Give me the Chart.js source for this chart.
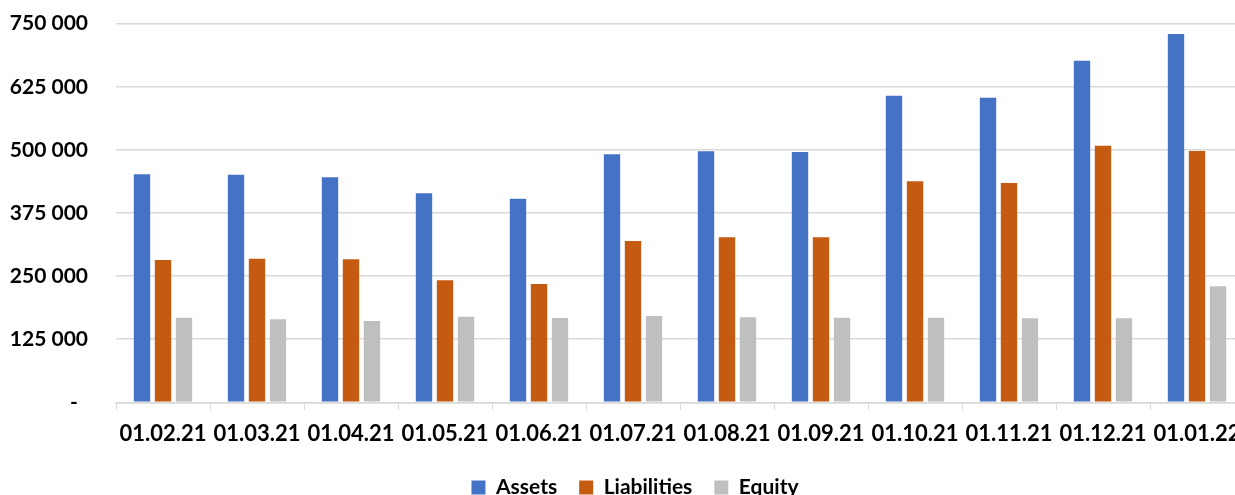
<!DOCTYPE html>
<html>
<head>
<meta charset="utf-8">
<script src="https://cdn.jsdelivr.net/npm/chart.js@4/dist/chart.umd.min.js"></script>
<style>
html,body{margin:0;padding:0;background:#fff;overflow:hidden;}
canvas{position:absolute;left:0;top:0;}
</style>
</head>
<body>
<canvas id="c" width="1270" height="508" style="width:1270px;height:508px"></canvas>
<script>
const categories = ['01.02.21','01.03.21','01.04.21','01.05.21','01.06.21','01.07.21','01.08.21','01.09.21','01.10.21','01.11.21','01.12.21','01.01.22'];
const assets      = [451700, 450900, 445700, 414000, 403400, 491300, 497300, 495900, 607400, 603500, 676800, 729600];
const liabilities = [281900, 284500, 283300, 241700, 234400, 319500, 326900, 326900, 437800, 434500, 508400, 497900];
const equity      = [167600, 164400, 161100, 169600, 167000, 171000, 168400, 167600, 167600, 166400, 166400, 229800];
const yTicks = [0, 125000, 250000, 375000, 500000, 625000, 750000];

function fmt(v){
  if (v === 0) return '-  ';
  return String(v).replace(/\B(?=(\d{3})+(?!\d))/g, ' ');
}

const FONT = 'Lato';
const legendShift = {
  id: 'legendShift',
  afterLayout(chart) {
    const l = chart.legend;
    if (l) { l.left += 13; l.right += 13; }
  }
};

new Chart(document.getElementById('c'), {
  type: 'bar',
  data: {
    labels: categories,
    datasets: [
      {label:'Assets', data: assets, backgroundColor:'#4472C4'},
      {label:'Liabilities', data: liabilities, backgroundColor:'#C55A11'},
      {label:'Equity', data: equity, backgroundColor:'#BFBFBF'}
    ]
  },
  plugins: [legendShift],
  options: {
    responsive: false,
    animation: false,
    devicePixelRatio: 1,
    datasets: {bar: {categoryPercentage: 0.67, barPercentage: 0.78}},
    layout: {padding: {top: 23.7, right: 26, left: 0, bottom: 0}},
    plugins: {
      tooltip: {enabled: false},
      legend: {
        position: 'bottom',
        labels: {
          font: {family: FONT, size: 21, weight: 'bold'},
          color: '#000',
          boxWidth: 14, boxHeight: 14,
          padding: 22
        }
      }
    },
    scales: {
      x: {
        grid: {display: true, drawOnChartArea: false, drawTicks: true, tickLength: 8, color: '#d9d9d9', offset: true},
        border: {display: true, color: '#d9d9d9', width: 1.5},
        ticks: {font: {family: FONT, size: 22, weight: 'bold'}, color: '#000', maxRotation: 0, autoSkip: false, padding: 10},
        afterFit: s => { s.height = 52.7; }
      },
      y: {
        min: 0, max: 750000,
        afterBuildTicks: s => { s.ticks = yTicks.map(v => ({value: v})); },
        grid: {color: '#d9d9d9', lineWidth: 1.5, drawTicks: true, tickLength: 28, tickColor: 'rgba(0,0,0,0)'},
        border: {display: false},
        ticks: {font: {family: FONT, size: 21, weight: 'bold'}, color: '#000', padding: 0, callback: v => fmt(v)},
        afterFit: s => { s.width = 116; }
      }
    }
  }
});
</script>
</body>
</html>
